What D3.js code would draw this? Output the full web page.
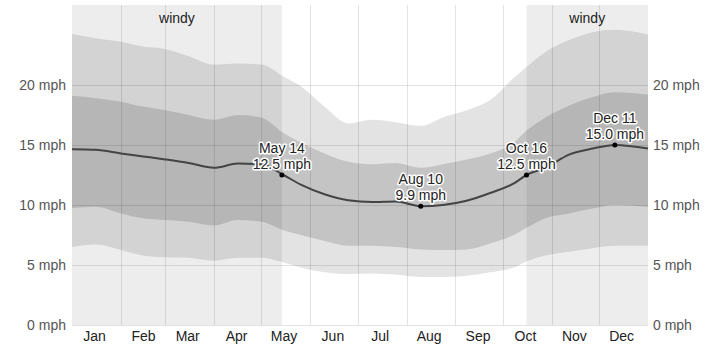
<!DOCTYPE html>
<html>
<head>
<meta charset="utf-8">
<script src="https://cdn.jsdelivr.net/npm/d3@7"></script>
<style>
  html, body { margin: 0; padding: 0; background: #fff; }
  svg { display: block; font-family: "Liberation Sans", Arial, sans-serif; }
</style>
</head>
<body>
<svg id="chart" width="720" height="346"></svg>
<script>
// ---- data (day offsets from Jan 1) ----
const days = [0, 15, 31, 45, 59, 74, 90, 105, 120, 134, 145, 160, 175, 190, 205, 221, 235, 250, 265, 280, 288, 300, 315, 330, 344, 365];
const p90  = [24.25, 23.9, 23.6, 23.2, 23.0, 22.4, 21.7, 21.8, 21.7, 20.7, 19.9, 18.2, 16.8, 17.1, 16.9, 16.6, 17.3, 17.9, 18.75, 20.6, 21.5, 22.75, 23.75, 24.4, 24.6, 24.2];
const p75  = [19.1, 18.9, 18.6, 18.2, 17.9, 17.5, 17.1, 17.5, 17.3, 16.0, 15.2, 14.3, 13.6, 13.4, 13.5, 13.1, 13.4, 13.8, 14.3, 15.2, 16.2, 17.3, 18.3, 19.0, 19.4, 19.2];
const avg  = [14.65, 14.6, 14.3, 14.05, 13.8, 13.5, 13.1, 13.45, 13.4, 12.5, 11.7, 10.9, 10.4, 10.25, 10.3, 9.9, 10.0, 10.35, 11.0, 11.8, 12.5, 13.1, 14.2, 14.7, 15.0, 14.7];
const p25  = [9.75, 9.85, 9.3, 8.9, 8.75, 8.6, 8.3, 8.75, 8.6, 7.9, 7.5, 7.0, 6.6, 6.6, 6.5, 6.3, 6.25, 6.3, 6.8, 7.5, 8.1, 8.9, 9.3, 9.7, 10.0, 9.85];
const p10  = [6.5, 6.7, 6.25, 5.8, 5.65, 5.6, 5.35, 5.6, 5.6, 5.2, 4.8, 4.4, 4.25, 4.3, 4.2, 4.0, 4.0, 4.1, 4.4, 4.8, 5.3, 5.8, 6.1, 6.4, 6.6, 6.6];

const windyStarts = [0, 288];     // day offsets
const windyEnds   = [133, 365];
const annotations = [
  { day: 133, label: "May 14", value: 12.5 },
  { day: 221, label: "Aug 10", value: 9.9 },
  { day: 288, label: "Oct 16", value: 12.5 },
  { day: 344, label: "Dec 11", value: 15.0 }
];
const yTicks = [0, 5, 10, 15, 20];
const monthNames = ["Jan","Feb","Mar","Apr","May","Jun","Jul","Aug","Sep","Oct","Nov","Dec"];

// ---- setup ----
const dayDate = d => new Date(2023, 0, 1 + d);
const svg = d3.select("#chart");
const mLeft = 72, mRight = 648, mTop = 5, mBottom = 325;

const x = d3.scaleTime().domain([new Date(2023,0,1), new Date(2024,0,1)]).range([mLeft, mRight]);
const y = d3.scaleLinear().domain([0, 20]).range([mBottom, mBottom - 240]);
const yTop = y.invert(mTop);

const rows = days.map((d, i) => ({ date: dayDate(d), p90: p90[i], p75: p75[i], avg: avg[i], p25: p25[i], p10: p10[i] }));

// windy backgrounds
const windy = windyStarts.map((s, i) => [s, windyEnds[i]]);
svg.append("g").selectAll("rect").data(windy).join("rect")
  .attr("x", d => x(dayDate(d[0])))
  .attr("width", d => x(dayDate(d[1])) - x(dayDate(d[0])))
  .attr("y", y(yTop)).attr("height", y(0) - y(yTop))
  .attr("fill", "#ededed");

svg.append("g").selectAll("text").data(windy).join("text")
  .attr("x", d => (x(dayDate(d[0])) + x(dayDate(d[1]))) / 2)
  .attr("y", 23)
  .attr("text-anchor", "middle")
  .attr("font-size", 14)
  .attr("fill", "#222")
  .text("windy");

// bands
const curve = d3.curveMonotoneX;
const area = (lo, hi) => d3.area().x(d => x(d.date)).y0(d => y(d[lo])).y1(d => y(d[hi])).curve(curve);
svg.append("path").datum(rows).attr("d", area("p10", "p90")).attr("fill", "rgba(0,0,0,0.11)");
svg.append("path").datum(rows).attr("d", area("p25", "p75")).attr("fill", "rgba(0,0,0,0.135)");

// grid
const grid = svg.append("g").attr("stroke", "rgba(0,0,0,0.11)").attr("stroke-width", 1);
grid.selectAll("line.h").data(yTicks).join("line").attr("class", "h")
  .attr("x1", mLeft).attr("x2", mRight)
  .attr("y1", d => Math.round(y(d)) + 0.5).attr("y2", d => Math.round(y(d)) + 0.5);
const monthStarts = d3.range(1, 12).map(m => new Date(2023, m, 1));
grid.selectAll("line.v").data(monthStarts).join("line").attr("class", "v")
  .attr("x1", d => Math.round(x(d)) + 0.5).attr("x2", d => Math.round(x(d)) + 0.5)
  .attr("y1", y(yTop)).attr("y2", y(0));

// average line
svg.append("path").datum(rows)
  .attr("d", d3.line().x(d => x(d.date)).y(d => y(d.avg)).curve(curve))
  .attr("fill", "none").attr("stroke", "#444").attr("stroke-width", 2);

// axes
const fmt = d => d + " mph";
const yl = svg.append("g").attr("transform", `translate(${mLeft},0)`)
  .call(d3.axisLeft(y).tickValues(yTicks).tickFormat(fmt).tickSize(0).tickPadding(6));
const yr = svg.append("g").attr("transform", `translate(${mRight},0)`)
  .call(d3.axisRight(y).tickValues(yTicks).tickFormat(fmt).tickSize(0).tickPadding(5));
[yl, yr].forEach(g => {
  g.select(".domain").remove();
  g.selectAll("text").attr("font-size", 14).attr("fill", "#555").attr("font-family", "Liberation Sans, Arial, sans-serif");
});
const midMonths = d3.range(0, 12).map(m => new Date(2023, m, 15));
const xa = svg.append("g").attr("transform", `translate(0,${mBottom})`)
  .call(d3.axisBottom(x).tickValues(midMonths).tickFormat((d, i) => monthNames[i]).tickSize(0).tickPadding(6));
xa.select(".domain").remove();
xa.selectAll("text").attr("font-size", 14).attr("fill", "#222").attr("font-family", "Liberation Sans, Arial, sans-serif");

// annotations
const ann = svg.append("g").selectAll("g").data(annotations).join("g")
  .attr("transform", d => `translate(${x(dayDate(d.day))},${y(d.value)})`);
ann.append("circle").attr("r", 2.5).attr("fill", "#000");
ann.each(function(d) {
  const g = d3.select(this);
  const lines = [d.label, d.value.toFixed(1) + " mph"];
  lines.forEach((t, i) => {
    g.append("text").attr("x", 0).attr("y", i === 0 ? -22 : -6)
      .attr("text-anchor", "middle").attr("font-size", 14)
      .attr("stroke", "#fff").attr("stroke-width", 3).attr("stroke-linejoin", "round")
      .attr("fill", "none").text(t);
    g.append("text").attr("x", 0).attr("y", i === 0 ? -22 : -6)
      .attr("text-anchor", "middle").attr("font-size", 14)
      .attr("fill", "#222").text(t);
  });
});
</script>
</body>
</html>
